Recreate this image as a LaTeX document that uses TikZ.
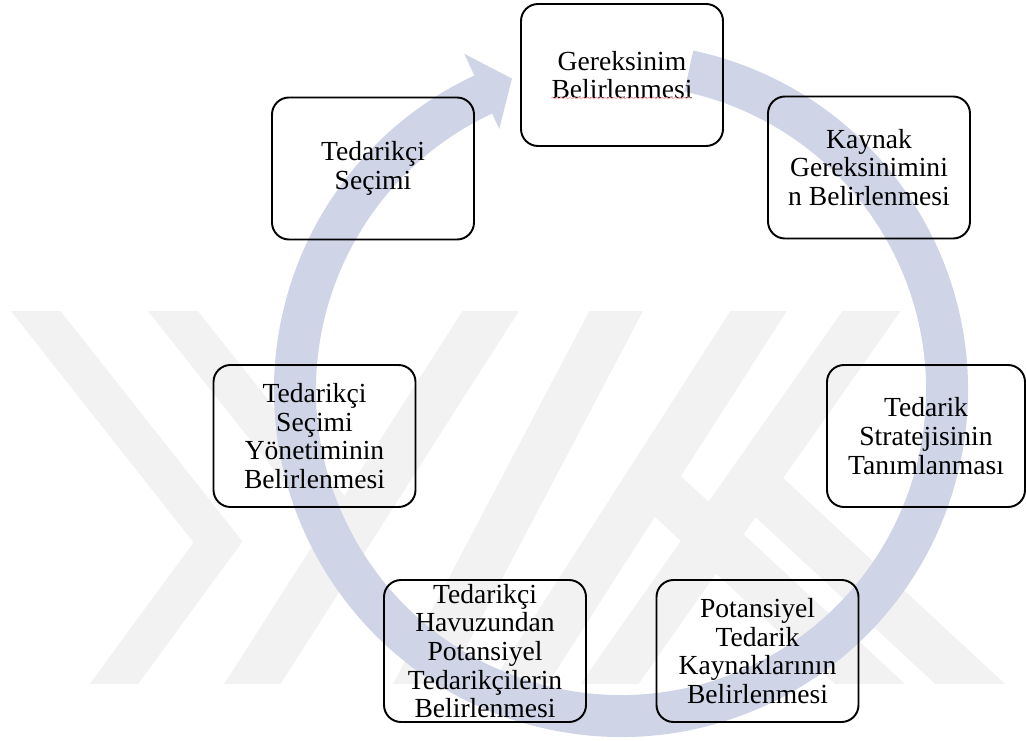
\documentclass[tikz,border=0pt]{standalone}
\usepackage{fontspec}
\setmainfont{Liberation Serif}
\usepackage{tikz}
\usetikzlibrary{shapes}
\usetikzlibrary{decorations.pathmorphing}
\definecolor{halka}{RGB}{207,213,231}
\definecolor{filigran}{RGB}{242,242,242}
\tikzset{surec/.style={draw, line width=1.1pt, rounded corners=0.34cm, minimum width=4.04cm, minimum height=2.84cm, inner sep=0pt, align=center, font=\fontsize{15.7}{16.3}\selectfont},
iz/.style={filigran, line width=0.95cm}}

\begin{document}
\begin{tikzpicture}[scale=1]
\useasboundingbox (0,0) rectangle (20.52,14.8);
\begin{scope}
\clip (0,1.14) rectangle (20.52,8.56);
\draw[iz, line width=0.78cm] (-0.06,9.56)--(4.36,3.96)--(1.56,0.14);
\draw[iz, line width=0.78cm] (2.68,9.56)--(7.05,4.05);
\draw[iz] (10.44,9.56)--(4.42,0.14);
\draw[iz] (12.84,9.56)--(7.88,0.14);
\draw[iz] (15.80,9.56)--(9.76,0.14);
\draw[iz] (18.12,9.56)--(11.50,0.14);
\draw[iz] (14.90,5.30)--(20.46,0.14);
\draw[iz] (13.00,5.20)--(18.46,0.14);
\end{scope}
\fill[halka, shift={(12.42,7.00)}] (78:6.94) arc[start angle=78, end angle=-245, radius=6.94]
  -- (-245:7.42) -- (-250.7:6.60) -- (-245:5.76) -- (-245:6.10)
  arc[start angle=-245, end angle=78, radius=6.10] -- cycle;
\node[surec] (ger) at (12.44,13.30) {Gereksinim\\Belirlenmesi};
\node[surec] (kay) at (17.38,11.45) {Kaynak\\Gereksinimini\\n Belirlenmesi};
\node[surec] (tsec) at (7.46,11.43) {Tedarikçi\\Seçimi};
\node[surec] (tyon) at (6.29,6.08) {Tedarikçi\\Seçimi\\Yönetiminin\\Belirlenmesi};
\node[surec, minimum width=3.96cm] (str) at (18.52,6.08) {Tedarik\\Stratejisinin\\Tanımlanması};
\node[surec] (hav) at (9.70,1.78) {Tedarikçi\\Havuzundan\\Potansiyel\\Tedarikçilerin\\Belirlenmesi};
\node[surec] (pot) at (15.15,1.78) {Potansiyel\\Tedarik\\Kaynaklarının\\Belirlenmesi};
\draw[red!35, line width=0.4pt, decorate, decoration={snake, amplitude=0.5pt, segment length=2.5pt}] (11.02,12.84)--(13.84,12.84);
\end{tikzpicture}
\end{document}
